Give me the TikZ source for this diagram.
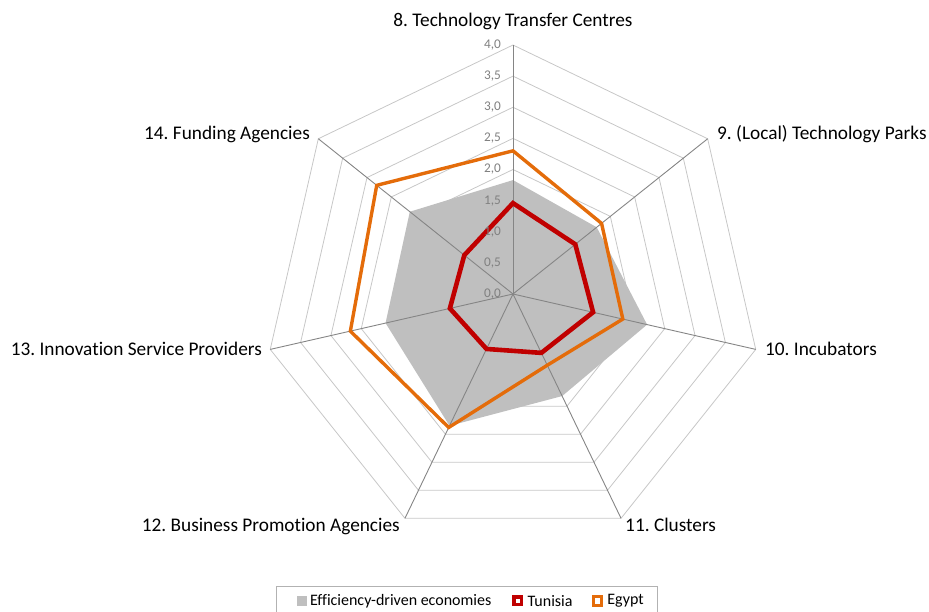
\documentclass[tikz,border=0pt]{standalone}
\usepackage{fontspec}
\setmainfont{Carlito}[Ligatures=NoCommon]
\usetikzlibrary{positioning}
\definecolor{effcol}{RGB}{191,191,191}
\definecolor{tuncol}{RGB}{192,0,0}
\definecolor{egycol}{RGB}{228,108,10}
\colorlet{ringcol}{black!22}
\colorlet{spokecol}{black!48}
\colorlet{tickcol}{black!50}
\frenchspacing

\begin{document}
\begin{tikzpicture}[x=62.25pt, y=62.25pt,
	    ring/.style={draw=ringcol, line width=0.8pt},
	    spoke/.style={draw=spokecol, line width=0.9pt},
	    axislabel/.style={font=\fontsize{19.3}{23}\selectfont, inner sep=0pt},
	    ticklabel/.style={font=\fontsize{13.3}{16}\selectfont, text=tickcol, anchor=east, inner sep=0pt},
	    serie/.style={line width=#1, line join=miter},
	    legendmark/.style={minimum size=#1, inner sep=0pt},
	    legendtext/.style={font=\fontsize{16}{19}\selectfont, inner sep=0pt}]
	    \useasboundingbox (-8.241,-5.108) rectangle (6.683,4.723);

		% grid rings 0,5 ... 4,0
		\foreach \r in {0.5,1,...,4}
			\draw[ring] (90:\r) \foreach \a in {1,...,6} { -- (90-\a*360/7:\r) } -- cycle;

		% data points of the three series
		\foreach \v [count=\i from 0] in {1.83,1.72,2.21,1.82,2.35,2.1,2.12}
			\coordinate (eff\i) at (90-\i*360/7:\v);
		\foreach \v [count=\i from 0] in {1.46,1.28,1.32,1.05,0.98,1.04,1.0}
			\coordinate (tun\i) at (90-\i*360/7:\v);
		\foreach \v [count=\i from 0] in {2.3,1.82,1.81,1.27,2.38,2.68,2.8}
			\coordinate (egy\i) at (90-\i*360/7:\v);

		\fill[effcol] (eff0) -- (eff1) -- (eff2) -- (eff3) -- (eff4) -- (eff5) -- (eff6) -- cycle;

		% spokes
		\coordinate (c) at (0,0);
		\foreach \i in {0,...,6}
			\draw[spoke] (c) -- (90-\i*360/7:4) coordinate (ax\i);

		\draw[tuncol, serie=4.6pt] (tun0) -- (tun1) -- (tun2) -- (tun3) -- (tun4) -- (tun5) -- (tun6) -- cycle;
		\draw[egycol, serie=3.4pt] (egy0) -- (egy1) -- (egy2) -- (egy3) -- (egy4) -- (egy5) -- (egy6) -- cycle;

		% scale on the first axis
		\foreach \v/\t in {0/{0,0},0.5/{0,5},1/{1,0},1.5/{1,5},2/{2,0},2.5/{2,5},3/{3,0},3.5/{3,5},4/{4,0}}
			\node[ticklabel] (tick\v) at (-0.19,\v) {\t};

		% axis titles
		\node[axislabel, anchor=base] (lab8) at ([yshift=18.3pt]ax0) {8. Technology Transfer Centres};
		\node[axislabel, anchor=base west] (lab9) at ([shift={(9.3pt,-1pt)}]ax1) {9. (Local) Technology Parks};
		\node[axislabel, anchor=base west] (lab10) at ([shift={(9.2pt,-6pt)}]ax2) {10. Incubators};
		\node[axislabel, anchor=base west] (lab11) at ([shift={(4pt,-13.2pt)}]ax3) {11. Clusters};
		\node[axislabel, anchor=base east] (lab12) at ([shift={(-5pt,-13.2pt)}]ax4) {12. Business Promotion Agencies};
		\node[axislabel, anchor=base east] (lab13) at ([shift={(-8.2pt,-6pt)}]ax5) {13. Innovation Service Providers};
		\node[axislabel, anchor=base east] (lab14) at ([shift={(-8.3pt,-1pt)}]ax6) {14. Funding Agencies};

		% legend
		\draw[black!30, line width=0.8pt] (-3.807,-5.3) rectangle (2.313,-4.691);
		\node[legendmark=10pt, fill=effcol] (legeff) at (-3.394,-4.93) {};
		\node[legendtext, right=3pt of legeff] (legefftext) {Efficiency-driven economies};
		\node[legendmark=7.5pt, draw=tuncol, line width=3.5pt] (legtun) at (0.08,-4.93) {};
		\node[legendtext, right=4pt of legtun] (legtuntext) {Tunisia};
		\node[legendmark=8.5pt, draw=egycol, line width=3pt] (legegy) at (1.357,-4.93) {};
		\node[legendtext, right=4pt of legegy] (legegytext) {Egypt};
\end{tikzpicture}
\end{document}
